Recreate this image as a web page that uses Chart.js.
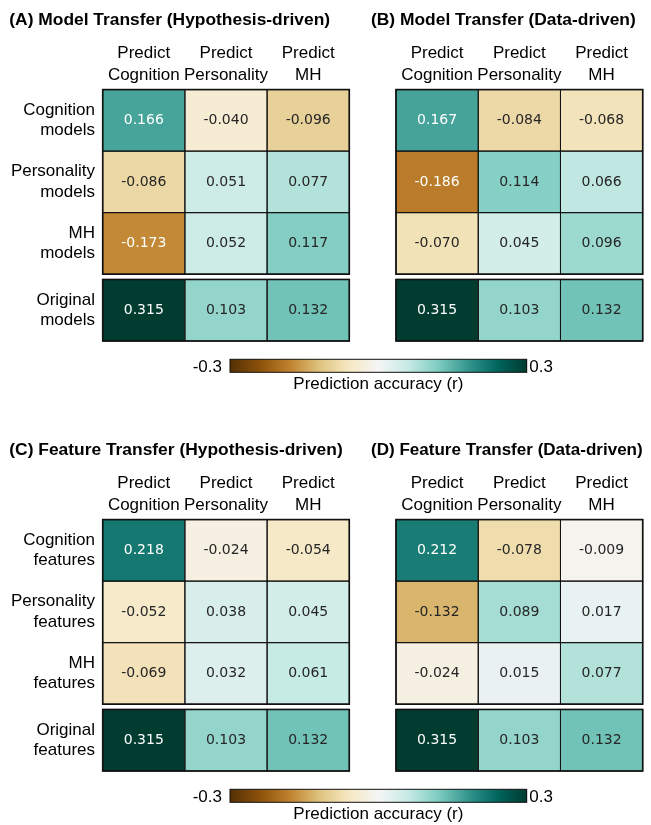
<!DOCTYPE html>
<html><head><meta charset="utf-8">
<script src="https://cdn.jsdelivr.net/npm/chart.js@4.4.1/dist/chart.umd.min.js"></script>
<style>
html,body{margin:0;padding:0;background:#fff;width:651px;height:825px;overflow:hidden;}
canvas{position:absolute;}
</style></head><body>
<canvas id="pA" width="355" height="345" style="left:0px;top:0px;width:355px;height:345px"></canvas>
<canvas id="pB" width="291" height="345" style="left:360px;top:0px;width:291px;height:345px"></canvas>
<canvas id="cb1" width="450" height="50" style="left:150px;top:345px;width:450px;height:50px"></canvas>
<canvas id="pC" width="355" height="345" style="left:0px;top:430px;width:355px;height:345px"></canvas>
<canvas id="pD" width="291" height="345" style="left:360px;top:430px;width:291px;height:345px"></canvas>
<canvas id="cb2" width="450" height="50" style="left:150px;top:775px;width:450px;height:50px"></canvas>
<script>
// ---------- data ----------
const columnLabels = [['Predict', 'Cognition'], ['Predict', 'Personality'], ['Predict', 'MH']];
const modelRowLabels = [['Cognition', 'models'], ['Personality', 'models'], ['MH', 'models'], ['Original', 'models']];
const featureRowLabels = [['Cognition', 'features'], ['Personality', 'features'], ['MH', 'features'], ['Original', 'features']];

const titleA = '(A) Model Transfer (Hypothesis-driven)';
const titleB = '(B) Model Transfer (Data-driven)';
const titleC = '(C) Feature Transfer (Hypothesis-driven)';
const titleD = '(D) Feature Transfer (Data-driven)';

const valuesA = [
  [0.166, -0.040, -0.096],
  [-0.086, 0.051, 0.077],
  [-0.173, 0.052, 0.117],
  [0.315, 0.103, 0.132]
];
const valuesB = [
  [0.167, -0.084, -0.068],
  [-0.186, 0.114, 0.066],
  [-0.070, 0.045, 0.096],
  [0.315, 0.103, 0.132]
];
const valuesC = [
  [0.218, -0.024, -0.054],
  [-0.052, 0.038, 0.045],
  [-0.069, 0.032, 0.061],
  [0.315, 0.103, 0.132]
];
const valuesD = [
  [0.212, -0.078, -0.009],
  [-0.132, 0.089, 0.017],
  [-0.024, 0.015, 0.077],
  [0.315, 0.103, 0.132]
];
const colorbarTicks = [-0.3, 0.3];
const colorbarLabel = 'Prediction accuracy (r)';

// ---------- colormap (BrBG) ----------
const VMIN = -0.3, VMAX = 0.3;
const BRBG = [[84,48,5],[140,81,10],[191,129,45],[223,194,125],[246,232,195],[245,245,245],[199,234,229],[128,205,193],[53,151,143],[1,102,94],[0,60,48]];
function cmapRGB(v) {
  let t = (v - VMIN) / (VMAX - VMIN);
  t = Math.max(0, Math.min(1, t));
  const p = t * 10;
  const i = Math.min(9, Math.floor(p));
  const f = p - i;
  const a = BRBG[i], b = BRBG[i + 1];
  return [0, 1, 2].map(k => a[k] + (b[k] - a[k]) * f);
}
function cmap(v) {
  const c = cmapRGB(v);
  return 'rgb(' + c.map(x => Math.round(x)).join(',') + ')';
}
function textColor(v) {
  const c = cmapRGB(v).map(x => {
    x = x / 255;
    return x <= 0.03928 ? x / 12.92 : Math.pow((x + 0.055) / 1.055, 2.4);
  });
  const lum = 0.2126 * c[0] + 0.7152 * c[1] + 0.0722 * c[2];
  return lum > 0.408 ? '#262626' : '#ffffff';
}

const LABEL_FONT = "'Liberation Sans', Arial, sans-serif";
const VALUE_FONT = "'DejaVu Sans', sans-serif";
const GAP = 0.086;
function rowStart(r) { return r < 3 ? r : r + GAP; }

const cellPlugin = {
  id: 'cells',
  afterDatasetsDraw(chart) {
    const ctx = chart.ctx;
    ctx.save();
    chart.data.datasets.forEach((ds, r) => {
      const meta = chart.getDatasetMeta(r);
      meta.data.forEach((el, c) => {
        const p = el.getProps(['x', 'y', 'base', 'width'], true);
        const left = p.x - p.width / 2, top = Math.min(p.y, p.base), h = Math.abs(p.base - p.y);
        ctx.strokeStyle = '#111';
        ctx.lineWidth = 1;
        ctx.strokeRect(left, top, p.width, h);
        const v = ds.values[c];
        ctx.fillStyle = textColor(v);
        ctx.font = '14px ' + VALUE_FONT;
        ctx.textAlign = 'center';
        ctx.textBaseline = 'middle';
        ctx.fillText(v.toFixed(3), p.x, top + h / 2);
      });
    });
    const ys = chart.scales.y, ca = chart.chartArea;
    ctx.strokeStyle = '#111';
    ctx.lineWidth = 1.6;
    const blocks = [[0, 3], [3 + GAP, 4 + GAP]];
    blocks.forEach(([a, b]) => {
      const y0 = ys.getPixelForValue(a), y1 = ys.getPixelForValue(b);
      ctx.strokeRect(ca.left, y0, ca.right - ca.left, y1 - y0);
    });
    ctx.restore();
  }
};

function zeroPad(s) { s.paddingTop = 0; s.paddingBottom = 0; s.paddingLeft = 0; s.paddingRight = 0; }

function makePanel(id, title, values, rowLabels, pad, yWidth) {
  const datasets = values.map((row, r) => ({
    data: row.map(() => [rowStart(r), rowStart(r) + 1]),
    values: row,
    backgroundColor: row.map(cmap),
    borderWidth: 0,
    barPercentage: 1,
    categoryPercentage: 1,
    grouped: false
  }));
  const centers = values.map((_, r) => rowStart(r) + 0.5);
  new Chart(document.getElementById(id), {
    type: 'bar',
    data: { labels: columnLabels, datasets },
    options: {
      responsive: false,
      animation: false,
      devicePixelRatio: 1,
      layout: { padding: pad },
      plugins: {
        legend: { display: false },
        tooltip: { enabled: false },
        title: {
          display: true, text: title, align: 'start', color: '#000',
          font: { family: LABEL_FONT, size: 17.4, weight: 'bold', lineHeight: 1.2 },
          padding: { top: 9.4, bottom: 0 }
        }
      },
      scales: {
        x: {
          type: 'category', position: 'top',
          grid: { display: false, drawTicks: false },
          border: { display: false },
          ticks: {
            color: '#000', padding: 3.3, maxRotation: 0, autoSkip: false,
            font: { family: LABEL_FONT, size: 17, lineHeight: 1.294 }
          },
          afterFit: s => { s.height = 59.3; zeroPad(s); }
        },
        y: {
          type: 'linear', reverse: true, min: 0, max: 4 + GAP,
          grid: { display: false, drawTicks: false },
          border: { display: false },
          afterBuildTicks: s => { s.ticks = centers.map(v => ({ value: v })); },
          ticks: {
            display: !!rowLabels, color: '#000', padding: 7.7, autoSkip: false,
            font: { family: LABEL_FONT, size: 17, lineHeight: 1.22 },
            callback: (v, i) => rowLabels ? rowLabels[i] : ''
          },
          afterFit: s => { s.width = yWidth; zeroPad(s); }
        }
      }
    },
    plugins: [cellPlugin]
  });
}

const colorbarPlugin = {
  id: 'colorbar',
  afterDraw(chart) {
    const ctx = chart.ctx, xs = chart.scales.x, ca = chart.chartArea;
    ctx.save();
    for (let px = Math.floor(ca.left); px < Math.ceil(ca.right); px++) {
      const v = xs.getValueForPixel(px + 0.5);
      ctx.fillStyle = cmap(v);
      ctx.fillRect(px, ca.top, 1, ca.bottom - ca.top);
    }
    ctx.strokeStyle = '#111';
    ctx.lineWidth = 1;
    ctx.strokeRect(ca.left, ca.top, ca.right - ca.left, ca.bottom - ca.top);
    ctx.fillStyle = '#000';
    ctx.font = '17px ' + LABEL_FONT;
    ctx.textBaseline = 'middle';
    const ym = (ca.top + ca.bottom) / 2 + 1.2;
    ctx.textAlign = 'right';
    ctx.fillText(String(colorbarTicks[0]), xs.getPixelForValue(colorbarTicks[0]) - 8, ym);
    ctx.textAlign = 'left';
    ctx.fillText(String(colorbarTicks[1]), xs.getPixelForValue(colorbarTicks[1]) + 2.5, ym);
    ctx.restore();
  }
};

function makeColorbar(id) {
  new Chart(document.getElementById(id), {
    type: 'scatter',
    data: { datasets: [{ data: [] }] },
    options: {
      responsive: false, animation: false, devicePixelRatio: 1,
      layout: { padding: { left: 80, right: 73.3, top: 14.3, bottom: 0.3 } },
      plugins: { legend: { display: false }, tooltip: { enabled: false } },
      scales: {
        x: {
          type: 'linear', min: colorbarTicks[0], max: colorbarTicks[1],
          grid: { display: false }, border: { display: false },
          ticks: { display: false },
          title: {
            display: true, text: colorbarLabel, color: '#000',
            font: { family: LABEL_FONT, size: 17, lineHeight: 1.2 },
            padding: { top: 3, bottom: 0 }
          },
          afterFit: s => { s.height = 22.4; zeroPad(s); }
        },
        y: { display: false }
      }
    },
    plugins: [colorbarPlugin]
  });
}

makePanel('pA', titleA, valuesA, modelRowLabels, { left: 9.3, right: 5.7, top: 0, bottom: 4 }, 93.4);
makePanel('pB', titleB, valuesB, null, { left: 11, right: 8.3, top: 0, bottom: 4 }, 25);
makePanel('pC', titleC, valuesC, featureRowLabels, { left: 9.3, right: 5.7, top: 0, bottom: 4 }, 93.4);
makePanel('pD', titleD, valuesD, null, { left: 11, right: 8.3, top: 0, bottom: 4 }, 25);
makeColorbar('cb1');
makeColorbar('cb2');
</script>
</body></html>
